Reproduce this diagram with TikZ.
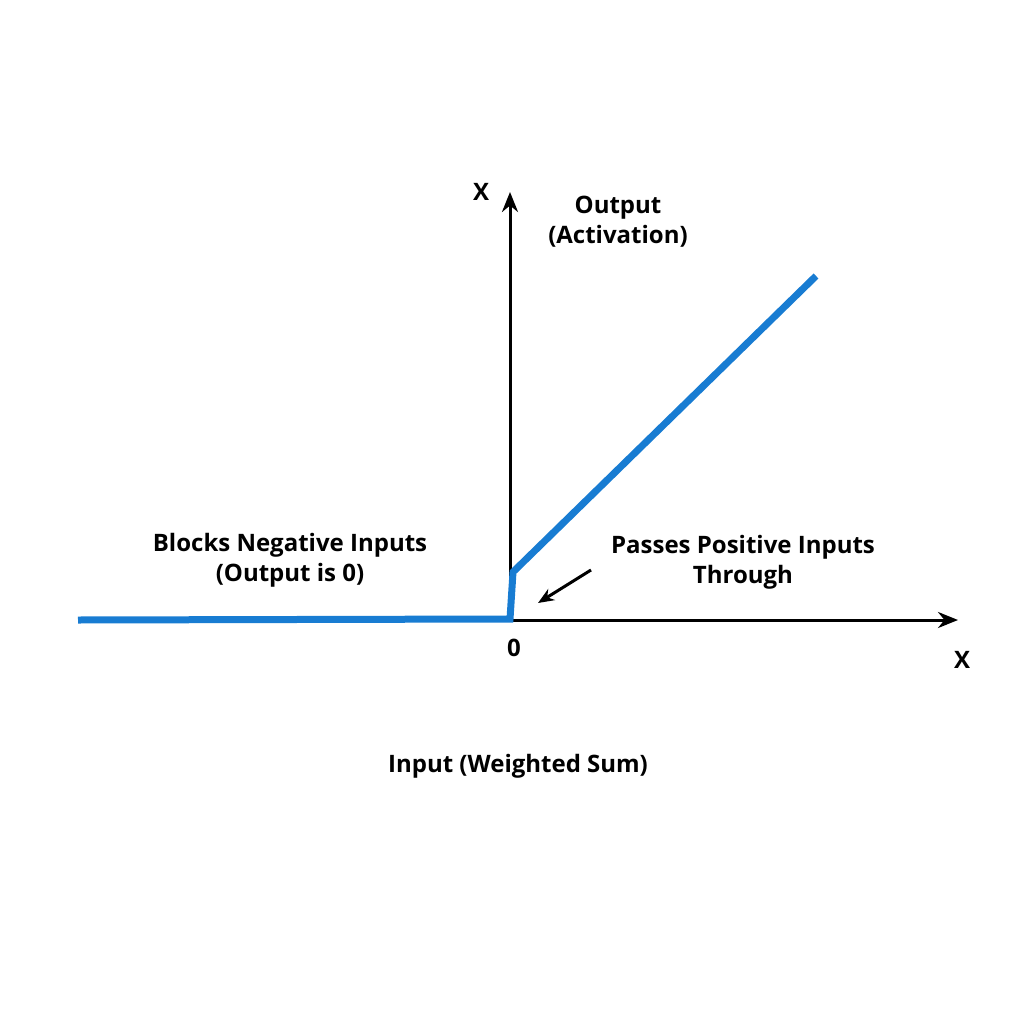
\documentclass[tikz,border=0pt]{standalone}
\usepackage{fontspec}
\setmainfont{Open Sans}
\usetikzlibrary{arrows.meta}
\definecolor{relublue}{RGB}{24,124,210}
\tikzset{
  axisline/.style={line width=3pt,-{Stealth[length=20pt,width=16pt]}},
  relucurve/.style={line width=7pt,relublue},
  lbl/.style={font=\fontsize{24}{30}\selectfont\bfseries,align=center},
  pointer/.style={line width=3pt,-{Stealth[length=16pt,width=13pt]}}
}
\begin{document}
\begin{tikzpicture}[x=1pt,y=-1pt]
\useasboundingbox (0,0) rectangle (1024,1024);
% axes
\coordinate (origin) at (510,620);
\coordinate (xend) at (958,620);
\coordinate (yend) at (510,192);
\draw[axisline] (origin) -- (xend);
\draw[axisline] (origin) -- (yend);
% curve
\coordinate (left) at (78,620);
\coordinate (kneelow) at (510,619);
\coordinate (kneeup) at (513,572);
\coordinate (right) at (816,276);
\draw[relucurve] (left) -- (kneelow) -- (kneeup) -- (right);
% labels
\node[lbl] (ylab) at (481,192) {X};
\node[lbl] (ytitle) at (618,222) {Output\\(Activation)};
\node[lbl] (xlab) at (962,660) {X};
\node[lbl] (zero) at (514,648) {0};
\node[lbl] (neg) at (290,560) {Blocks Negative Inputs\\(Output is 0)};
\node[lbl] (pos) at (743,562) {Passes Positive Inputs\\Through};
\node[lbl] (xtitle) at (518,766) {Input (Weighted Sum)};
% pointer
\coordinate (ptip) at (538,603);
\coordinate (ptail) at (591,570);
\draw[pointer] (ptail) -- (ptip);
\end{tikzpicture}
\end{document}
